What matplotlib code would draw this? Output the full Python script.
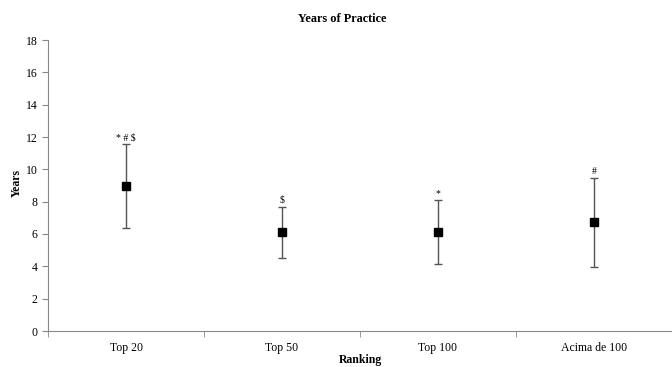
import matplotlib
matplotlib.use("Agg")
import matplotlib.pyplot as plt
from matplotlib.ticker import FixedLocator

categories = ["Top 20", "Top 50", "Top 100", "Acima de 100"]
means = [8.95, 6.1, 6.12, 6.72]
sds = [2.6, 1.6, 1.98, 2.75]
labels = ["* # $", "$", "*", "#"]
yticks = [0, 2, 4, 6, 8, 10, 12, 14, 16, 18]

plt.rcParams['font.family'] = ['Liberation Serif', 'DejaVu Serif']

fig = plt.figure(figsize=(6.72, 3.67), dpi=100)
ax = fig.add_axes([48/672, 1-331/367, 1-48/672, (331-40)/367])

x = list(range(len(categories)))
ax.errorbar(x, means, yerr=sds, fmt='s', color='black', ms=6,
            ecolor='#555555', elinewidth=1.0, capsize=3, capthick=1.0)
for xi, m, s, lab in zip(x, means, sds, labels):
    ax.text(xi, m + s + 0.1, lab, ha='center', va='bottom', fontsize=7)

ax.set_xlim(-0.5, 3.5)
ax.set_ylim(0, 18)
ax.set_yticks(yticks)
ax.set_xticks(x)
ax.set_xticklabels(categories, fontsize=8.5)
ax.xaxis.set_minor_locator(FixedLocator([-0.5, 0.5, 1.5, 2.5]))
ax.tick_params(axis='x', which='major', length=0, pad=8)
ax.tick_params(axis='x', which='minor', length=4, color='#888888')
ax.tick_params(axis='y', length=4, color='#888888', labelsize=8.5)
for s in ['top', 'right']:
    ax.spines[s].set_visible(False)
for s in ['left', 'bottom']:
    ax.spines[s].set_color('#888888')
    ax.spines[s].set_linewidth(0.8)

fig.text(342/672, 1-19/367, "Years of Practice", ha='center', va='center',
         fontsize=8.8, fontweight='bold')
fig.text(17/672, 1-183/367, "Years", rotation=90, ha='center', va='center',
         fontsize=8.5, fontweight='bold')
fig.text(360/672, 1-360/367, "Ranking", ha='center', va='center',
         fontsize=8.5, fontweight='bold')

fig.savefig("out.png", dpi=100)
